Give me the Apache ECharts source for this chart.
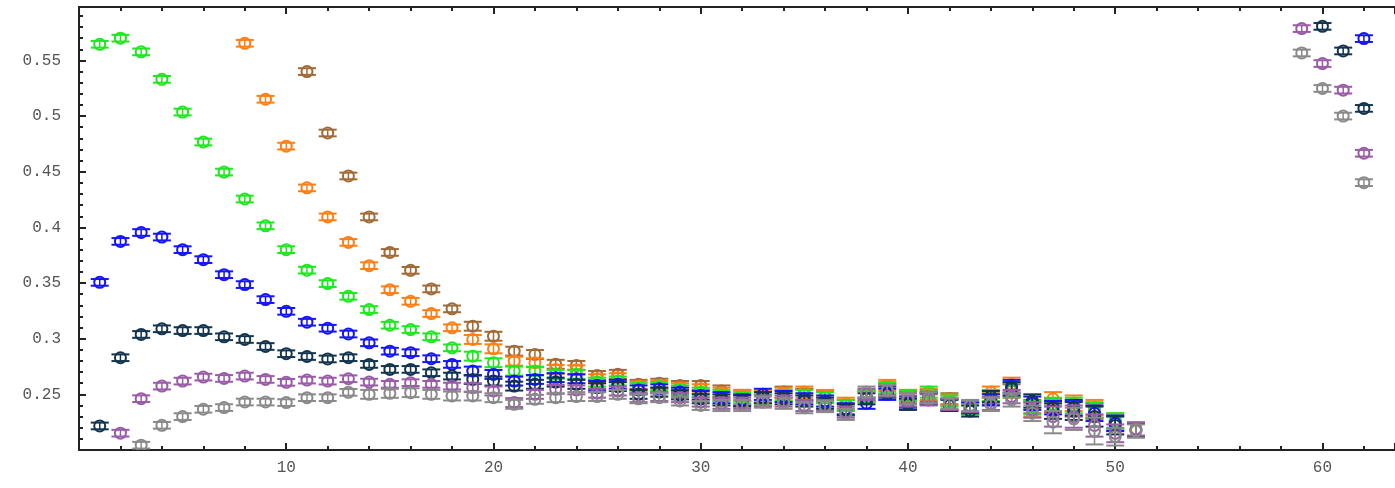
<!DOCTYPE html>
<html>
<head>
<meta charset="utf-8">
<script src="https://cdn.jsdelivr.net/npm/echarts@6/dist/echarts.min.js"></script>
<style>
html,body{margin:0;padding:0;background:#fff}
#chart{width:1395px;height:488px}
</style>
</head>
<body>
<div id="chart"></div>
<script>
// [x, y, error]
var brown = [[11,0.540,.003],[12,0.4848,.003],[13,0.4462,.003],[14,0.4094,.003],[15,0.3775,.003],[16,0.3614,.003],[17,0.3447,.003],[18,0.3268,.003],[19,0.3112,.004],[20,0.3022,.004],[21,0.2888,.004],[22,0.2858,.004],[23,0.277,.004],[24,0.276,.004],[25,0.267,.004],[26,0.268,.004],[27,0.259,.004],[28,0.260,.004],[29,0.258,.004],[30,0.258,.004],[31,0.253,.005],[32,0.249,.005],[33,0.247,.005],[34,0.252,.005],[35,0.250,.005],[36,0.248,.005],[37,0.240,.005],[38,0.248,.005],[39,0.255,.005],[40,0.247,.005],[41,0.249,.005],[42,0.246,.005],[43,0.238,.005],[44,0.246,.005],[45,0.253,.006],[46,0.239,.006],[47,0.240,.006],[48,0.237,.007],[49,0.235,.007],[50,0.224,.007]];
var orange = [[8,0.5654,.003],[9,0.5151,.003],[10,0.4730,.003],[11,0.4355,.003],[12,0.4094,.003],[13,0.3865,.003],[14,0.3656,.003],[15,0.344,.003],[16,0.3336,.003],[17,0.3226,.003],[18,0.3098,.003],[19,0.2993,.004],[20,0.2909,.004],[21,0.2798,.004],[22,0.2784,.004],[23,0.2724,.004],[24,0.272,.004],[25,0.264,.004],[26,0.265,.004],[27,0.2575,.004],[28,0.2585,.004],[29,0.256,.004],[30,0.255,.004],[31,0.251,.005],[32,0.249,.005],[33,0.248,.005],[34,0.251,.005],[35,0.252,.005],[36,0.249,.005],[37,0.242,.005],[38,0.249,.005],[39,0.258,.005],[40,0.249,.005],[41,0.250,.005],[42,0.245,.005],[43,0.237,.005],[44,0.252,.005],[45,0.259,.006],[46,0.236,.006],[47,0.246,.006],[48,0.242,.007],[49,0.238,.007],[50,0.226,.007]];
var green = [[1,0.5645,.003],[2,0.570,.003],[3,0.5577,.003],[4,0.533,.003],[5,0.5036,.003],[6,0.4767,.003],[7,0.4497,.003],[8,0.4255,.003],[9,0.4014,.003],[10,0.380,.003],[11,0.3616,.003],[12,0.3495,.003],[13,0.3381,.003],[14,0.3262,.003],[15,0.3121,.003],[16,0.3082,.003],[17,0.3017,.003],[18,0.2918,.003],[19,0.2843,.004],[20,0.2784,.004],[21,0.2709,.004],[22,0.2709,.004],[23,0.268,.004],[24,0.268,.004],[25,0.261,.004],[26,0.262,.004],[27,0.256,.004],[28,0.257,.004],[29,0.254,.004],[30,0.252,.004],[31,0.249,.005],[32,0.247,.005],[33,0.245,.005],[34,0.249,.005],[35,0.249,.005],[36,0.247,.005],[37,0.240,.005],[38,0.248,.005],[39,0.256,.005],[40,0.249,.005],[41,0.252,.005],[42,0.244,.005],[43,0.237,.005],[44,0.249,.005],[45,0.254,.006],[46,0.238,.006],[47,0.241,.006],[48,0.240,.007],[49,0.236,.007],[50,0.226,.007]];
var blue = [[1,0.3506,.003],[2,0.3874,.003],[3,0.3954,.003],[4,0.3913,.003],[5,0.380,.003],[6,0.371,.003],[7,0.3575,.003],[8,0.3486,.003],[9,0.3351,.003],[10,0.3246,.003],[11,0.3148,.003],[12,0.3094,.003],[13,0.3042,.003],[14,0.2963,.003],[15,0.2888,.003],[16,0.2874,.003],[17,0.282,.003],[18,0.2769,.003],[19,0.2709,.004],[20,0.2679,.004],[21,0.2619,.004],[22,0.2634,.004],[23,0.265,.004],[24,0.264,.004],[25,0.258,.004],[26,0.259,.004],[27,0.254,.004],[28,0.255,.004],[29,0.252,.004],[30,0.249,.004],[31,0.247,.005],[32,0.245,.005],[33,0.250,.005],[34,0.248,.005],[35,0.246,.005],[36,0.244,.005],[37,0.237,.005],[38,0.242,.005],[39,0.250,.005],[40,0.243,.005],[41,0.247,.005],[42,0.241,.005],[43,0.238,.005],[44,0.245,.005],[45,0.257,.006],[46,0.242,.006],[47,0.238,.006],[48,0.238,.007],[49,0.233,.007],[50,0.224,.007],[62,0.5696,.003]];
var navy = [[1,0.2216,.003],[2,0.2829,.003],[3,0.3038,.003],[4,0.3089,.003],[5,0.3073,.003],[6,0.3073,.003],[7,0.3017,.003],[8,0.2993,.003],[9,0.2930,.003],[10,0.2865,.003],[11,0.2840,.003],[12,0.2818,.003],[13,0.2829,.003],[14,0.2769,.003],[15,0.2724,.003],[16,0.2724,.003],[17,0.2694,.003],[18,0.2664,.003],[19,0.2634,.004],[20,0.2619,.004],[21,0.2574,.004],[22,0.2590,.004],[23,0.261,.004],[24,0.259,.004],[25,0.256,.004],[26,0.257,.004],[27,0.250,.004],[28,0.252,.004],[29,0.2495,.004],[30,0.246,.004],[31,0.245,.005],[32,0.244,.005],[33,0.247,.005],[34,0.246,.005],[35,0.244,.005],[36,0.242,.005],[37,0.236,.005],[38,0.246,.005],[39,0.252,.005],[40,0.241,.005],[41,0.246,.005],[42,0.240,.005],[43,0.235,.005],[44,0.248,.005],[45,0.255,.006],[46,0.244,.006],[47,0.235,.007],[48,0.235,.008],[49,0.230,.009],[50,0.222,.008],[51,0.218,.006],[60,0.5806,.003],[61,0.5585,.003],[62,0.5069,.003]];
var purple = [[2,0.2151,.003],[3,0.2461,.003],[4,0.2574,.003],[5,0.2619,.003],[6,0.2655,.003],[7,0.2643,.003],[8,0.2664,.003],[9,0.2634,.003],[10,0.2608,.003],[11,0.2628,.003],[12,0.2619,.003],[13,0.2640,.003],[14,0.2610,.003],[15,0.2590,.003],[16,0.2605,.003],[17,0.2590,.003],[18,0.2574,.003],[19,0.2560,.004],[20,0.2530,.004],[21,0.2426,.004],[22,0.2500,.004],[23,0.2545,.004],[24,0.254,.004],[25,0.251,.004],[26,0.253,.004],[27,0.247,.004],[28,0.248,.004],[29,0.247,.004],[30,0.243,.004],[31,0.242,.005],[32,0.242,.005],[33,0.244,.005],[34,0.244,.005],[35,0.240,.005],[36,0.240,.005],[37,0.234,.005],[38,0.250,.005],[39,0.253,.005],[40,0.244,.005],[41,0.245,.005],[42,0.241,.005],[43,0.239,.005],[44,0.242,.006],[45,0.248,.006],[46,0.236,.007],[47,0.230,.009],[48,0.230,.010],[49,0.222,.010],[50,0.215,.008],[51,0.219,.006],[59,0.5786,.003],[60,0.5472,.003],[61,0.5233,.003],[62,0.4666,.003]];
var gray = [[3,0.2043,.003],[4,0.2222,.003],[5,0.2300,.003],[6,0.2366,.003],[7,0.2381,.003],[8,0.2431,.003],[9,0.2431,.003],[10,0.2426,.003],[11,0.2470,.003],[12,0.2470,.003],[13,0.2518,.003],[14,0.2500,.004],[15,0.2509,.004],[16,0.2515,.004],[17,0.2500,.004],[18,0.2485,.004],[19,0.2485,.004],[20,0.2470,.004],[21,0.2410,.004],[22,0.2455,.004],[23,0.247,.004],[24,0.248,.004],[25,0.248,.004],[26,0.250,.004],[27,0.246,.004],[28,0.247,.004],[29,0.244,.004],[30,0.240,.004],[31,0.240,.005],[32,0.240,.005],[33,0.243,.005],[34,0.242,.005],[35,0.238,.005],[36,0.239,.005],[37,0.232,.005],[38,0.252,.005],[39,0.254,.005],[40,0.246,.005],[41,0.247,.005],[42,0.242,.005],[43,0.240,.005],[44,0.241,.006],[45,0.245,.006],[46,0.233,.007],[47,0.225,.010],[48,0.228,.010],[49,0.217,.012],[50,0.212,.008],[51,0.217,.006],[59,0.5567,.003],[60,0.5248,.003],[61,0.500,.003],[62,0.4402,.003]];

var names = ['brown','orange','green','blue','navy','purple','gray'];
var datas = [brown, orange, green, blue, navy, purple, gray];
var colors = ['#a26a35','#ff7f14','#1ee81e','#1414ff','#12344f','#9a5ca8','#8a8a8a'];

var chart = echarts.init(document.getElementById('chart'));

function errItem(color){
    return function(params, api){
        var x = api.value(0), y = api.value(1), e = api.value(2);
        var c = api.coord([x, y]);
        var hi = api.coord([x, y + e]);
        var lo = api.coord([x, y - e]);
        var w = 9;
        return {
            type: 'group',
            children: [
                {type:'line', shape:{x1:c[0], y1:hi[1], x2:c[0], y2:lo[1]}, style:{stroke:color, lineWidth:1.5}},
                {type:'line', shape:{x1:c[0]-w, y1:hi[1], x2:c[0]+w, y2:hi[1]}, style:{stroke:color, lineWidth:2}},
                {type:'line', shape:{x1:c[0]-w, y1:lo[1], x2:c[0]+w, y2:lo[1]}, style:{stroke:color, lineWidth:2}},
                {type:'circle', shape:{cx:c[0], cy:c[1], r:5.5}, style:{fill:'none', stroke:color, lineWidth:2}}
            ]
        };
    };
}

var series = [];
for (var i = 0; i < datas.length; i++) {
    series.push({
        name: names[i],
        type: 'custom',
        renderItem: errItem(colors[i]),
        encode: {x: 0, y: 1},
        clip: true,
        data: datas[i]
    });
}

var lblFont = {color:'#555', fontFamily:'Liberation Mono', fontSize:16};
var axLine = {show:true, lineStyle:{color:'#222', width:2}};

var option = {
    backgroundColor: '#fff',
    animation: false,
    grid: {left:79, top:7, width:1318, height:443, containLabel:false},
    xAxis: [{
        type: 'value', min: 0, max: 63.5, interval: 10,
        axisLine: axLine,
        axisTick: {inside:true, length:7, lineStyle:{color:'#222', width:2}},
        minorTick: {show:true, splitNumber:5, length:4, lineStyle:{color:'#222', width:2}},
        splitLine: {show:false},
        axisLabel: Object.assign({margin:10, showMinLabel:false, showMaxLabel:false}, lblFont)
    }, {
        type: 'value', position: 'top', min: 0, max: 63.5, interval: 10,
        axisLine: axLine,
        axisTick: {inside:true, length:7, lineStyle:{color:'#222', width:2}},
        minorTick: {show:true, splitNumber:5, length:4, lineStyle:{color:'#222', width:2}},
        splitLine: {show:false},
        axisLabel: {show:false}
    }],
    yAxis: {
        type: 'value', min: 0.2, max: 0.598, interval: 0.05,
        axisLine: axLine,
        axisTick: {inside:true, length:7, lineStyle:{color:'#222', width:2}},
        minorTick: {show:true, splitNumber:5, length:4, lineStyle:{color:'#222', width:2}},
        splitLine: {show:false},
        axisLabel: Object.assign({margin:18, showMinLabel:false, showMaxLabel:false,
            formatter: function(v){ return String(+v.toFixed(2)); }}, lblFont)
    },
    series: series
};
chart.setOption(option);
</script>
</body>
</html>
